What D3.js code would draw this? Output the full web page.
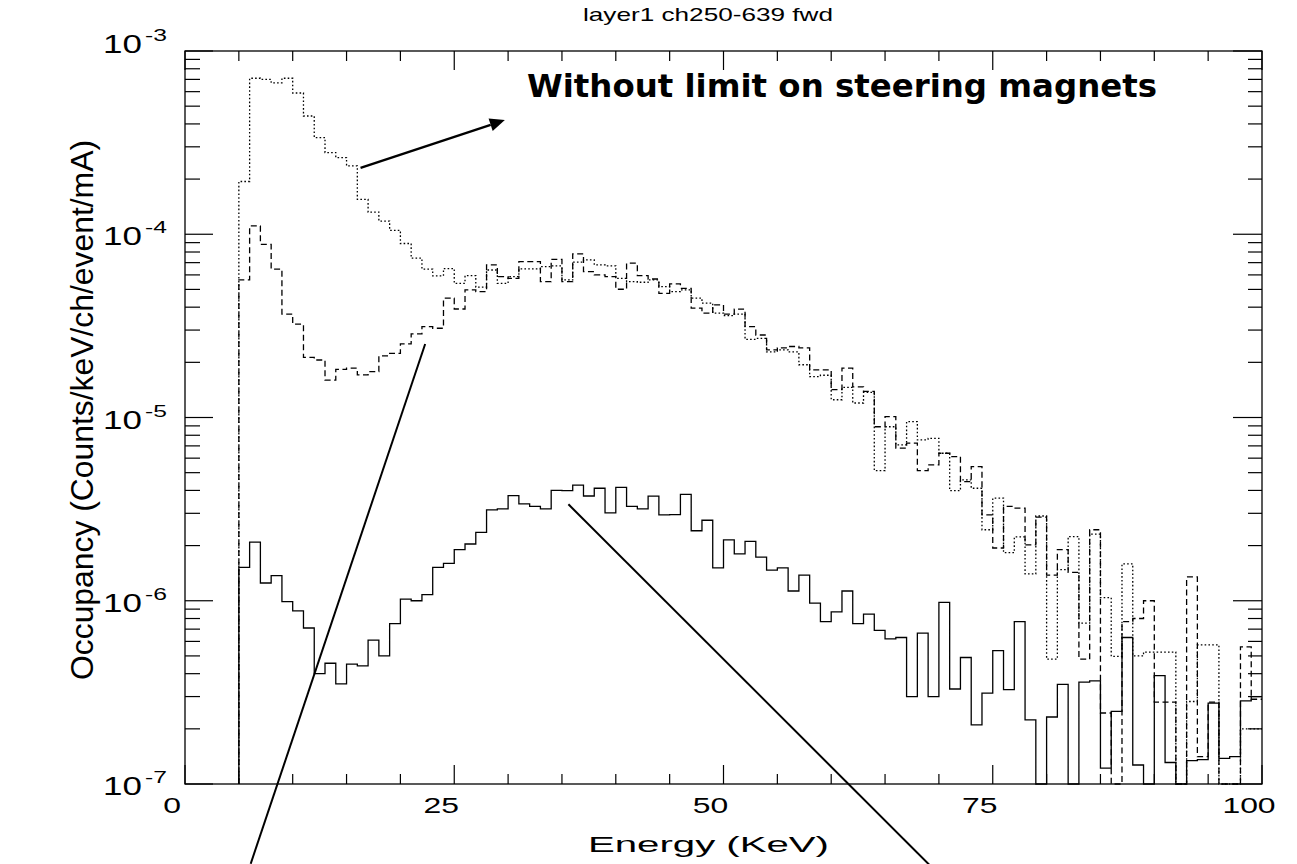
<!DOCTYPE html>
<html>
<head>
<meta charset="utf-8">
<script src="https://cdn.jsdelivr.net/npm/d3@7"></script>
<style>
  body { margin: 0; background: #fff; }
  svg { display: block; }
</style>
</head>
<body>
<div id="chart"></div>
<script>
const TITLE = 'layer1 ch250-639 fwd';
const X_LABEL = 'Energy (KeV)';
const Y_LABEL = 'Occupancy (Counts/keV/ch/event/mA)';
const NOTE = 'Without limit on steering magnets';

// 1 keV bins, first bin starts at 5 keV
const binStart = 5;
const xTicks = [0, 25, 50, 75, 100];
const xMinorStep = 5;
const yTicks = [1e-7, 1e-6, 1e-5, 1e-4, 1e-3];
const yTickExp = ['-7', '-6', '-5', '-4', '-3'];

// dotted: without limit on steering magnets
const noLimit = [
  1.94e-4, 7.1e-4, 7.0e-4, 6.7e-4, 7.1e-4, 5.9e-4, 4.42e-4, 3.37e-4, 2.79e-4, 2.62e-4,
  2.36e-4, 1.55e-4, 1.32e-4, 1.18e-4, 1.05e-4, 8.9e-5, 7.4e-5, 6.45e-5, 5.93e-5, 6.5e-5,
  5.4e-5, 5.95e-5, 5.14e-5, 6.38e-5, 5.4e-5, 5.87e-5, 6.47e-5, 6.47e-5, 6.66e-5, 6.72e-5,
  5.63e-5, 7.04e-5, 7.24e-5, 6.8e-5, 6.72e-5, 5.75e-5, 5.51e-5, 5.47e-5, 5.63e-5, 5.18e-5,
  4.86e-5, 4.97e-5, 4.48e-5, 4.21e-5, 3.71e-5, 3.6e-5, 3.67e-5, 2.67e-5, 2.7e-5, 2.28e-5,
  2.34e-5, 2.28e-5, 1.94e-5, 1.67e-5, 1.7e-5, 1.25e-5, 1.46e-5, 1.2e-5, 1.37e-5, 5.13e-6,
  8.9e-6, 7.09e-6, 9.5e-6, 7.55e-6, 7.7e-6, 6.38e-6, 3.99e-6, 4.57e-6, 4.11e-6, 2.44e-6,
  3.63e-6, 1.83e-6, 2.23e-6, 1.4e-6, 2.9e-6, 4.8e-7, 1.48e-6, 2.24e-6, 7.55e-7, 2.31e-6,
  1.04e-6, 4.97e-7, 1.59e-6, 5.0e-7, 5.25e-7, 5.25e-7, 5.25e-7, 0, 2.82e-7, 5.75e-7,
  5.75e-7, 0, 0, 2.0e-7, 2.0e-7
];

// dashed
const withLimit = [
  5.63e-5, 1.11e-4, 8.8e-5, 6.45e-5, 3.67e-5, 3.23e-5, 2.13e-5, 2.06e-5, 1.6e-5, 1.83e-5,
  1.86e-5, 1.71e-5, 1.78e-5, 2.17e-5, 2.24e-5, 2.52e-5, 2.86e-5, 3.13e-5, 3.07e-5, 4.48e-5,
  3.91e-5, 4.97e-5, 4.86e-5, 6.8e-5, 5.87e-5, 5.75e-5, 7.09e-5, 7.09e-5, 5.51e-5, 7.3e-5,
  5.51e-5, 7.81e-5, 6.25e-5, 6.0e-5, 5.87e-5, 5.01e-5, 6.95e-5, 5.95e-5, 5.7e-5, 4.76e-5,
  5.36e-5, 5.07e-5, 3.95e-5, 3.71e-5, 4.12e-5, 3.67e-5, 3.9e-5, 3.13e-5, 2.82e-5, 2.34e-5,
  2.4e-5, 2.44e-5, 2.4e-5, 1.82e-5, 1.82e-5, 1.42e-5, 1.86e-5, 1.47e-5, 1.39e-5, 8.9e-6,
  1.01e-5, 6.8e-6, 7.24e-6, 5.13e-6, 5.51e-6, 6.38e-6, 6.12e-6, 4.47e-6, 5.4e-6, 2.94e-6,
  1.94e-6, 3.27e-6, 3.2e-6, 2.02e-6, 2.86e-6, 1.38e-6, 1.9e-6, 1.43e-6, 4.8e-7, 2.44e-6,
  2.44e-7, 0, 7.7e-7, 8.0e-7, 1.0e-6, 2.8e-7, 2.8e-7, 0, 1.35e-6, 1.41e-7,
  2.8e-7, 0, 0, 5.6e-7, 2.9e-7
];

// solid
const lowRun = [
  1.52e-6, 2.09e-6, 1.25e-6, 1.37e-6, 9.9e-7, 8.8e-7, 7.1e-7, 4.0e-7, 4.56e-7, 3.52e-7,
  4.51e-7, 4.41e-7, 6.1e-7, 5.0e-7, 7.5e-7, 1.02e-6, 1.0e-6, 1.08e-6, 1.52e-6, 1.6e-6,
  1.9e-6, 2.04e-6, 2.36e-6, 3.13e-6, 3.17e-6, 3.75e-6, 3.38e-6, 3.27e-6, 3.17e-6, 4.0e-6,
  3.99e-6, 4.27e-6, 3.73e-6, 4.11e-6, 3.02e-6, 4.16e-6, 3.27e-6, 3.17e-6, 3.72e-6, 2.94e-6,
  2.95e-6, 3.81e-6, 2.41e-6, 2.75e-6, 1.51e-6, 2.15e-6, 1.8e-6, 2.11e-6, 1.73e-6, 1.47e-6,
  1.51e-6, 1.13e-6, 1.38e-6, 9.7e-7, 7.7e-7, 8.7e-7, 1.13e-6, 7.5e-7, 8.45e-7, 6.9e-7,
  6.2e-7, 6.3e-7, 3.0e-7, 6.65e-7, 3.0e-7, 9.8e-7, 3.3e-7, 4.9e-7, 2.1e-7, 3.13e-7,
  5.35e-7, 3.27e-7, 7.7e-7, 2.24e-7, 0, 2.32e-7, 3.5e-7, 0, 3.6e-7, 3.65e-7,
  1.22e-7, 2.49e-7, 6.3e-7, 1.27e-7, 0, 3.9e-7, 1.31e-7, 0, 1.34e-7, 1.36e-7,
  2.76e-7, 1.38e-7, 1.41e-7, 2.84e-7, 3.0e-7
];

// pointer lines, in data units [keV, occupancy]
const pointers = [
  { from: [16.3, 2.3e-4], to: [29.7, 4.2e-4], arrow: true },
  { from: [22.3, 2.52e-5], to: [6.1, 3.67e-8] },
  { from: [35.6, 3.36e-6], to: [69.2, 3.58e-8] }
];

const WIDTH = 1297, HEIGHT = 864;
const margin = { top: 51, right: 35, bottom: 80, left: 185 };
const FONT = 'Liberation Sans, Arial, sans-serif';

const svg = d3.select('#chart').append('svg')
  .attr('width', WIDTH)
  .attr('height', HEIGHT);

const x = d3.scaleLinear().domain([0, 100]).range([margin.left, WIDTH - margin.right]);
const y = d3.scaleLog().domain([1e-7, 1e-3]).range([HEIGHT - margin.bottom, margin.top]);
const yMin = y.domain()[0];
const [x0, x1] = x.range();
const [yb, yt] = y.range();

// frame
svg.append('rect')
  .attr('x', x0).attr('y', yt)
  .attr('width', x1 - x0).attr('height', yb - yt)
  .attr('fill', 'none').attr('stroke', '#000').attr('stroke-width', 1.3);

// x ticks, bottom and top
const xMinor = d3.range(0, 100 + 1e-9, xMinorStep).filter(v => !xTicks.includes(v));
const tickG = svg.append('g').attr('stroke', '#000').attr('stroke-width', 1.2);
xTicks.concat(xMinor).forEach(v => {
  const len = xTicks.includes(v) ? 19 : 10;
  tickG.append('line').attr('x1', x(v)).attr('x2', x(v)).attr('y1', yb).attr('y2', yb - len);
  tickG.append('line').attr('x1', x(v)).attr('x2', x(v)).attr('y1', yt).attr('y2', yt + len);
});

// y ticks, left and right
const yMinor = [];
yTicks.slice(0, -1).forEach(d => { for (let m = 2; m <= 9; m++) yMinor.push(m * d); });
yTicks.concat(yMinor).forEach(v => {
  const major = yTicks.includes(v);
  const lenL = major ? 28 : 15, lenR = major ? 29 : 14;
  tickG.append('line').attr('x1', x0).attr('x2', x0 + lenL).attr('y1', y(v)).attr('y2', y(v));
  tickG.append('line').attr('x1', x1).attr('x2', x1 - lenR).attr('y1', y(v)).attr('y2', y(v));
});

// x tick labels
xTicks.forEach(v => {
  svg.append('g')
    .attr('transform', `translate(${x(v) - 13},${yb + 29}) scale(1.45,1)`)
    .append('text')
    .attr('text-anchor', 'middle')
    .attr('font-family', FONT).attr('font-size', 22)
    .text(v);
});

// y tick labels 10^n
yTicks.forEach((v, i) => {
  const ty = y(v) + (i === yTicks.length - 1 ? 2 : 11);
  svg.append('g')
    .attr('transform', `translate(142,${ty}) scale(1.4,1)`)
    .append('text')
    .attr('text-anchor', 'end')
    .attr('font-family', FONT).attr('font-size', 25)
    .text('10');
  svg.append('g')
    .attr('transform', `translate(145,${ty - 12}) scale(1.45,1)`)
    .append('text')
    .attr('font-family', FONT).attr('font-size', 17)
    .text(yTickExp[i]);
});

// histograms
const line = d3.line()
  .curve(d3.curveStepAfter)
  .x(d => x(d[0]))
  .y(d => y(Math.max(d[1], yMin)));

function stepPoints(values) {
  const pts = [[binStart, yMin]];
  values.forEach((v, i) => pts.push([binStart + i, v]));
  pts.push([binStart + values.length, values[values.length - 1]]);
  return pts;
}

const series = [
  { values: noLimit, dash: '1.6,2.2' },
  { values: withLimit, dash: '6,3.5' },
  { values: lowRun, dash: null }
];

svg.append('g').selectAll('path')
  .data(series)
  .enter()
  .append('path')
  .attr('d', d => line(stepPoints(d.values)))
  .attr('fill', 'none')
  .attr('stroke', '#000')
  .attr('stroke-width', 1.3)
  .attr('stroke-dasharray', d => d.dash);

// pointers
pointers.forEach(p => {
  const ax = x(p.from[0]), ay = y(p.from[1]);
  const bx = x(p.to[0]), by = y(p.to[1]);
  if (p.arrow) {
    const ang = Math.atan2(by - ay, bx - ax);
    const hl = 15, hw = 6.5;
    const cx = bx - hl * Math.cos(ang), cy = by - hl * Math.sin(ang);
    svg.append('line')
      .attr('x1', ax).attr('y1', ay).attr('x2', cx).attr('y2', cy)
      .attr('stroke', '#000').attr('stroke-width', 2.4);
    const pts = [
      [bx, by],
      [cx + hw * Math.sin(ang), cy - hw * Math.cos(ang)],
      [cx - hw * Math.sin(ang), cy + hw * Math.cos(ang)]
    ];
    svg.append('polygon').attr('points', pts.map(q => q.join(',')).join(' ')).attr('fill', '#000');
  } else {
    svg.append('line')
      .attr('x1', ax).attr('y1', ay).attr('x2', bx).attr('y2', by)
      .attr('stroke', '#000').attr('stroke-width', 2);
  }
});

// texts
svg.append('text')
  .attr('x', 583).attr('y', 21)
  .attr('font-family', FONT).attr('font-size', 19)
  .attr('textLength', 250).attr('lengthAdjust', 'spacingAndGlyphs')
  .text(TITLE);

svg.append('text')
  .attr('x', 588).attr('y', 852)
  .attr('font-family', FONT).attr('font-size', 22)
  .attr('textLength', 241).attr('lengthAdjust', 'spacingAndGlyphs')
  .text(X_LABEL);

svg.append('text')
  .attr('transform', 'translate(93,680) rotate(-90)')
  .attr('font-family', FONT).attr('font-size', 31)
  .attr('textLength', 540).attr('lengthAdjust', 'spacingAndGlyphs')
  .text(Y_LABEL);

svg.append('text')
  .attr('x', 527).attr('y', 97)
  .attr('font-family', 'DejaVu Sans, Verdana, sans-serif')
  .attr('font-weight', 'bold').attr('font-size', 32)
  .attr('textLength', 630).attr('lengthAdjust', 'spacingAndGlyphs')
  .text(NOTE);
</script>
</body>
</html>
